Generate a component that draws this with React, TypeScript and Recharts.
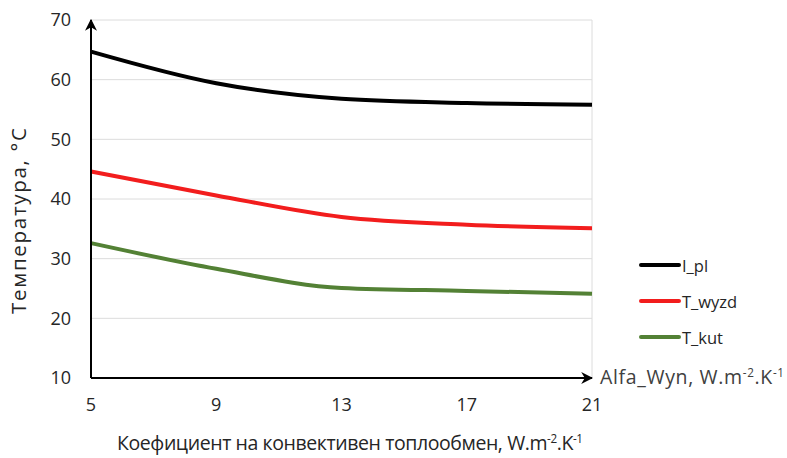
import React from 'react';
import {
  LineChart,
  Line,
  XAxis,
  YAxis,
  CartesianGrid,
  ReferenceLine,
} from 'recharts';

const alfaValues = [5, 9, 13, 17, 21];
const tPl = [64.7, 59.4, 56.8, 56.1, 55.8];
const tWyzd = [44.6, 40.6, 37.0, 35.7, 35.1];
const tKut = [32.6, 28.3, 25.1, 24.6, 24.1];
const yTicks = [10, 20, 30, 40, 50, 60, 70];

const seriesNames = ['I_pl', 'T_wyzd', 'T_kut'];
const seriesKeys = ['tPl', 'tWyzd', 'tKut'];
const seriesColors = ['#000000', '#f21d1d', '#538135'];

const FONT = '"Open Sans", "DejaVu Sans", sans-serif';
const TEXT = '#262626';

const data = alfaValues.map((x, i) => ({
  x,
  tPl: tPl[i],
  tWyzd: tWyzd[i],
  tKut: tKut[i],
}));

const Unit = ({ size }: { size: number }) => (
  <>
    <tspan>W.m</tspan>
    <tspan dy={-7} fontSize={size * 0.6}>
      -2
    </tspan>
    <tspan dy={7}>.K</tspan>
    <tspan dy={-7} fontSize={size * 0.6}>
      -1
    </tspan>
  </>
);

export default function App() {
  return (
    <div style={{ position: 'absolute', left: 0, top: 0 }}>
      <LineChart
        width={787}
        height={458}
        data={data}
        margin={{ top: 20, right: 195, left: 0, bottom: 0 }}
      >
        <defs>
          <marker
            id="arrowHead"
            viewBox="0 0 10 10"
            refX="9"
            refY="5"
            markerWidth="12"
            markerHeight="12"
            markerUnits="userSpaceOnUse"
            orient="auto-start-reverse"
          >
            <path d="M0,0 L10,5 L0,10 L3,5 Z" fill="#000" />
          </marker>
        </defs>
        <CartesianGrid vertical={false} stroke="#dcdcdc" strokeWidth={1} />
        <ReferenceLine x={21} stroke="#dcdcdc" strokeWidth={1} />
        <XAxis
          dataKey="x"
          type="number"
          domain={[5, 21]}
          ticks={alfaValues}
          height={80}
          tickLine={false}
          tickMargin={14}
          axisLine={{ stroke: '#000', strokeWidth: 2, markerEnd: 'url(#arrowHead)' }}
          tick={{ fill: TEXT, fontSize: 18, fontFamily: FONT }}
        />
        <YAxis
          type="number"
          domain={[10, 70]}
          ticks={yTicks}
          width={91}
          tickLine={false}
          tickMargin={14}
          axisLine={{ stroke: '#000', strokeWidth: 2, markerStart: 'url(#arrowHead)' }}
          tick={{ fill: TEXT, fontSize: 18, fontFamily: FONT }}
        />
        {seriesKeys.map((key, i) => (
          <Line
            key={key}
            type="monotone"
            dataKey={key}
            name={seriesNames[i]}
            stroke={seriesColors[i]}
            strokeWidth={4}
            dot={false}
            isAnimationActive={false}
          />
        ))}
        {/* legend, same order as the series */}
        {seriesNames.map((name, i) => (
          <g key={`leg-${name}`}>
            <line
              x1={641}
              x2={679}
              y1={265 + i * 36}
              y2={265 + i * 36}
              stroke={seriesColors[i]}
              strokeWidth={4}
              strokeLinecap="round"
            />
            <text
              x={682}
              y={265 + i * 36}
              dominantBaseline="central"
              fontSize={16.5}
              fontFamily={FONT}
              fill={TEXT}
            >
              {name}
            </text>
          </g>
        ))}
        <text
          x={18}
          y={221}
          transform="rotate(-90 18 221)"
          textAnchor="middle"
          dominantBaseline="central"
          fontSize={20.5}
          textLength={186}
          lengthAdjust="spacing"
          fontFamily={FONT}
          fill={TEXT}
        >
          Температура, °C
        </text>
        <text
          x={117}
          y={450}
          textAnchor="start"
          fontSize={19.5}
          textLength={466}
          lengthAdjust="spacing"
          fontFamily={FONT}
          fill={TEXT}
        >
          Коефициент на конвективен топлообмен, <Unit size={19.5} />
        </text>
        <text
          x={600}
          y={384}
          textAnchor="start"
          fontSize={19.5}
          textLength={184}
          lengthAdjust="spacing"
          fontFamily={FONT}
          fill="#404040"
        >
          Alfa_Wyn, <Unit size={19.5} />
        </text>
      </LineChart>
    </div>
  );
}
